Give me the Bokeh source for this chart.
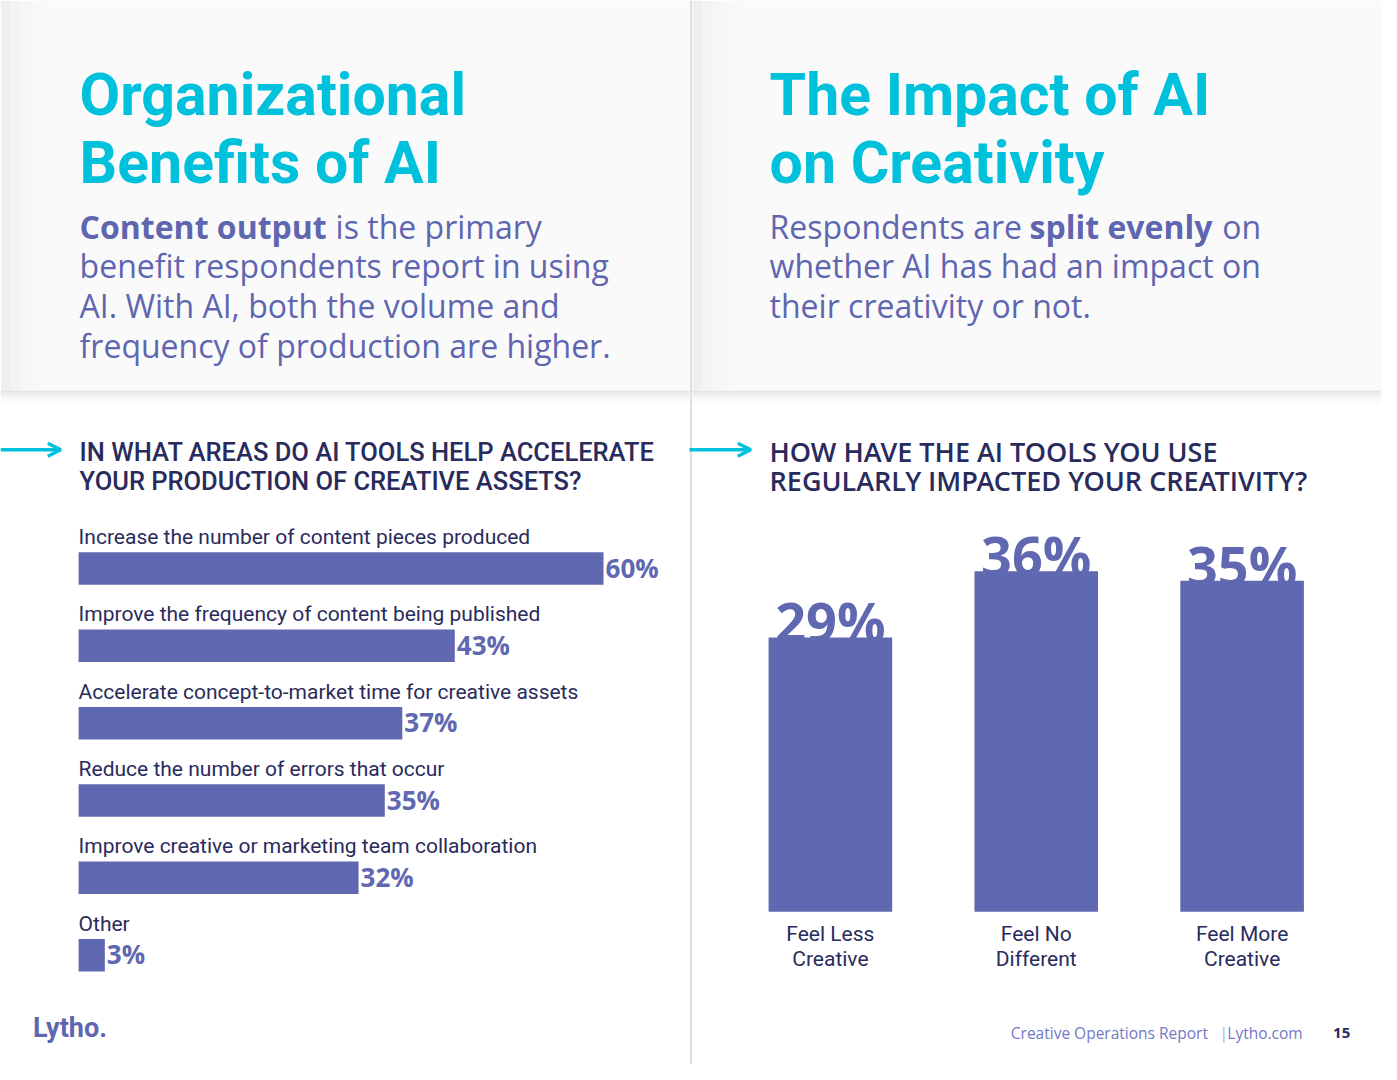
from bokeh.plotting import figure
from bokeh.models import Range1d, Arrow, OpenHead
from bokeh.core.properties import value
from bokeh.embed import file_html
from bokeh.resources import INLINE

# ---------------- data ----------------
left_title = ["Organizational", "Benefits of AI"]
right_title = ["The Impact of AI", "on Creativity"]
left_question = ["IN WHAT AREAS DO AI TOOLS HELP ACCELERATE", "YOUR PRODUCTION OF CREATIVE ASSETS?"]
right_question = ["HOW HAVE THE AI TOOLS YOU USE", "REGULARLY IMPACTED YOUR CREATIVITY?"]

areas = [
    "Increase the number of content pieces produced",
    "Improve the frequency of content being published",
    "Accelerate concept-to-market time for creative assets",
    "Reduce the number of errors that occur",
    "Improve creative or marketing team collaboration",
    "Other",
]
area_pct = [60, 43, 37, 35, 32, 3]

impact = ["Feel Less\nCreative", "Feel No\nDifferent", "Feel More\nCreative"]
impact_pct = [29, 36, 35]

# ---------------- style ----------------
CYAN = "#00c1dc"
BAR = "#5f68b1"
PURPLE = "#5f66b0"
NAVY = "#292b5c"
W, H = 1381, 1064
RW, RH = 1397, 1080        # reference page size used as the drawing coordinate system
C = 0.36                    # baseline correction (fraction of font size)
PCT_FONT = value("Open Sans")

p = figure(width=W, height=H, x_range=Range1d(0, RW), y_range=Range1d(RH, 0),
           output_backend="svg", toolbar_location=None,
           x_axis_location=None, y_axis_location=None, min_border=0,
           outline_line_color=None, background_fill_color="white",
           border_fill_color="white")
p.grid.visible = False


def bl(y, fs):
    # y for an alphabetic baseline at y (page units) for font size fs
    return y - C * fs


# scales for the two charts (value 0 at a page position, k page units per data unit)
hx_k, hx_0 = 8.85, 79
vx_k, vx_0 = 208.25, 839.5
hy_k, hy_0 = 78.5, 576.5
vy_k, vy_0 = 9.6, 925
p.extra_x_ranges = {
    "hx": Range1d(-hx_0 / hx_k, -hx_0 / hx_k + RW / hx_k),
    "vx": Range1d(-vx_0 / vx_k, -vx_0 / vx_k + RW / vx_k),
}
p.extra_y_ranges = {
    "hy": Range1d((RH - hy_0) / hy_k, (RH - hy_0) / hy_k - RH / hy_k),
    "vy": Range1d(-(RH - vy_0) / vy_k, -(RH - vy_0) / vy_k + RH / vy_k),
}

# ---------------- background panels ----------------
for x0, x1 in [(0, 697), (700, 1397)]:
    for k, a in enumerate([0.035, 0.028, 0.02, 0.013, 0.008, 0.004]):
        p.quad(left=x0, right=x1, top=395, bottom=398 + 3 * k, fill_color="#000000",
               fill_alpha=a, line_color=None)
    p.quad(left=x0, right=x1, top=0, bottom=396, fill_color="#fafafb", line_color=None)
    for k, a in enumerate([0.014, 0.010, 0.007, 0.004, 0.002]):
        p.quad(left=x0, right=x0 + 10 * (k + 1), top=0, bottom=396, fill_color="#000000",
               fill_alpha=a, line_color=None)

# divider
p.segment(x0=698.5, y0=0, x1=698.5, y1=1080, line_color="#dcdde9", line_width=2)

# ---------------- titles ----------------
TF = value("Roboto")
p.text(x=[80, 80], y=[bl(117, 59), bl(186, 59)], text=left_title, text_font=TF,
       text_font_style="bold", text_font_size="59px", text_color=CYAN, text_baseline="alphabetic")
p.text(x=[778, 778], y=[bl(117, 59), bl(186, 59)], text=right_title, text_font=TF,
       text_font_style="bold", text_font_size="59px", text_color=CYAN, text_baseline="alphabetic")

SFS = 32
SUB = dict(text_font=value("Open Sans"), text_font_size=f"{SFS}px", text_color=PURPLE,
           text_baseline="alphabetic")
r1, r2, r3, r4 = bl(241, SFS), bl(281, SFS), bl(321.5, SFS), bl(362, SFS)
p.text(x=[80], y=[r1], text=["Content output"], text_font_style="bold", **SUB)
p.text(x=[339], y=[r1], text=["is the primary"], **SUB)
p.text(x=[80, 80, 80], y=[r2, r3, r4],
       text=["benefit respondents report in using", "AI. With AI, both the volume and",
             "frequency of production are higher."], **SUB)

p.text(x=[778], y=[r1], text=["Respondents are"], **SUB)
p.text(x=[1041], y=[r1], text=["split evenly"], text_font_style="bold", **SUB)
p.text(x=[1236], y=[r1], text=["on"], **SUB)
p.text(x=[778, 778], y=[r2, r3],
       text=["whether AI has had an impact on", "their creativity or not."], **SUB)

# ---------------- question headings ----------------
p.text(x=[80, 80], y=[bl(467, 25.5), bl(497, 25.5)], text=left_question,
       text_font=value("Roboto Medium, Roboto"), text_font_size="25.5px", text_color=NAVY,
       text_baseline="alphabetic")
p.text(x=[778, 778], y=[bl(467, 27), bl(497, 27)], text=right_question,
       text_font=value("Open Sans SemiBold, Open Sans"), text_font_size="27px",
       text_color=NAVY, text_baseline="alphabetic")

for xs, xe in [(0, 61), (697, 759)]:
    p.add_layout(Arrow(end=OpenHead(size=13, line_color=CYAN, line_width=3.5),
                       x_start=xs, y_start=456, x_end=xe, y_end=456,
                       line_color=CYAN, line_width=3.5))

# ---------------- left chart: horizontal bars ----------------
idx = list(range(len(areas)))
p.hbar(y=idx, left=0, right=area_pct, height=33 / hy_k, fill_color=BAR, line_color=None,
       x_range_name="hx", y_range_name="hy")
p.text(x=[0] * len(areas), y=[i + (-24.5 - C * 21) / hy_k for i in idx], text=areas,
       text_font=value("Roboto"), text_font_size="21px", text_color=NAVY,
       text_baseline="alphabetic", x_range_name="hx", y_range_name="hy")
p.text(x=area_pct, y=[i + (8.5 - C * 26) / hy_k for i in idx], text=[f"{v}%" for v in area_pct],
       x_offset=2, text_font=PCT_FONT, text_font_style="bold",
       text_font_size="26px", text_color=BAR, text_baseline="alphabetic",
       x_range_name="hx", y_range_name="hy")

# ---------------- right chart: vertical bars ----------------
vidx = list(range(len(impact)))
p.text(x=vidx, y=[v - (3 - C * 54) / vy_k for v in impact_pct], text=[f"{v}%" for v in impact_pct],
       text_align="center", text_font=PCT_FONT, text_font_style="bold",
       text_font_size="54px", text_color=BAR, text_baseline="alphabetic",
       x_range_name="vx", y_range_name="vy")
p.vbar(x=vidx, bottom=0, top=impact_pct, width=125 / vx_k, fill_color=BAR,
       line_color=None, x_range_name="vx", y_range_name="vy")
line1 = [c.split("\n")[0] for c in impact]
line2 = [c.split("\n")[1] for c in impact]
p.text(x=vidx, y=[-(30 - C * 21) / vy_k] * 3, text=line1, text_align="center",
       text_font=value("Roboto"), text_font_size="21px", text_color=NAVY,
       text_baseline="alphabetic", x_range_name="vx", y_range_name="vy")
p.text(x=vidx, y=[-(55 - C * 21) / vy_k] * 3, text=line2, text_align="center",
       text_font=value("Roboto"), text_font_size="21px", text_color=NAVY,
       text_baseline="alphabetic", x_range_name="vx", y_range_name="vy")

# ---------------- footer ----------------
p.text(x=[33], y=[bl(1053, 27)], text=["Lytho."], text_font=value("Roboto"),
       text_font_style="bold", text_font_size="27px", text_color=PURPLE,
       text_baseline="alphabetic")
FF = dict(text_font=value("Open Sans"), text_font_size="15.5px", text_baseline="alphabetic")
p.text(x=[1022], y=[bl(1054, 15.5)], text=["Creative Operations Report"], text_color="#7278c4", **FF)
p.text(x=[1233], y=[bl(1054, 15.5)], text=["|"], text_color="#8fb8ec", **FF)
p.text(x=[1241], y=[bl(1054, 15.5)], text=["Lytho.com"], text_color="#7278c4", **FF)
p.text(x=[1348], y=[bl(1054, 15.5)], text=["15"], text_color=NAVY, text_font=value("Open Sans"),
       text_font_style="bold", text_font_size="15px", text_baseline="alphabetic")

open("out.html", "w").write(file_html(p, INLINE))
